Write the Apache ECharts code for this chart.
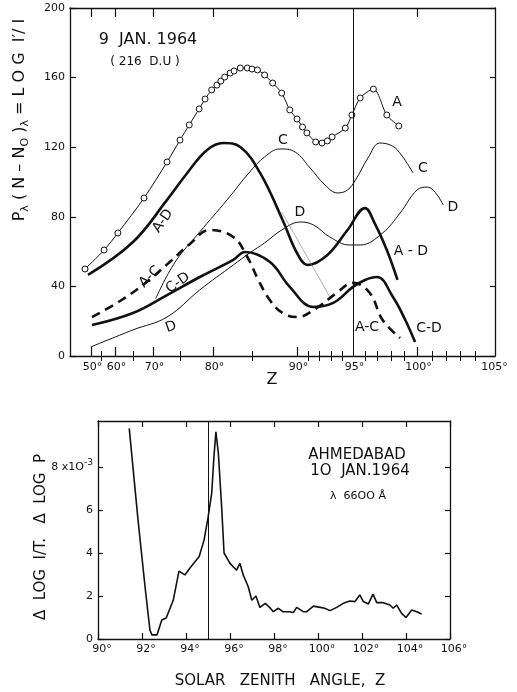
<!DOCTYPE html>
<html><head><meta charset="utf-8">
<script src="https://cdn.jsdelivr.net/npm/echarts@6/dist/echarts.min.js"></script>
<style>html,body{margin:0;padding:0;background:#fff}#c{width:517px;height:692px}</style>
</head><body><div id="c"></div>
<script>
// ---------- Upper chart data (Z in degrees, value) ----------
const A_Z = [47, 56.1, 60.8, 67.75, 72.6, 75, 76.4, 77.9, 78.8, 79.8, 80.5, 81.0, 81.5, 82.2, 82.7, 83.5, 84.4, 85, 85.6, 86.4, 87.3, 88.3, 89.2, 90, 90.5, 90.9, 91.7, 92.25, 92.7, 93.1, 94.3, 94.9, 95.6, 96.7, 97.7, 98.6];
const A_V = [50, 60.9, 70.7, 90.8, 111.5, 124.1, 132.8, 142, 147.7, 152.9, 155.7, 158, 160.3, 162.6, 163.8, 165.5, 165.5, 164.9, 164.4, 161.5, 156.9, 151.1, 141.4, 136.2, 131.6, 128.2, 123, 122.4, 123.6, 125.9, 131, 138.5, 148.3, 153.4, 138.5, 132.2];
const C_Z = [70.5, 74.1, 78, 81.8, 84.7, 86.4, 88.1, 89.8, 91.2, 92.5, 93.6, 94.5, 95.2, 96.25, 97.2, 98.1, 98.8, 99.7];
const C_V = [33, 54, 71.3, 89.7, 105.7, 114.4, 119, 117.2, 108, 98.3, 93.7, 95.4, 101.1, 113.8, 122.4, 120.7, 115.5, 105.2];
const D_Z = [49.9, 65, 72.6, 78, 82.6, 84.7, 86.4, 88.3, 90.3, 91.5, 92.9, 94.7, 95.6, 97.4, 98.7, 100, 100.7, 101.8];
const D_V = [5.2, 15, 22.4, 38, 52.3, 59.2, 65, 72.4, 77, 75.3, 68.4, 63.8, 63.8, 70.7, 82.2, 95.4, 97.1, 86.8];
const AD_Z = [48.5, 65, 72.6, 76.1, 79.1, 81.3, 83.5, 85.9, 88.4, 90, 91, 92.7, 94.5, 96, 96.8, 97.7, 98.5];
const AD_V = [46.6, 65.5, 89.7, 105.2, 118.4, 122.4, 120.1, 105.2, 78.2, 59.2, 52.3, 58, 72.4, 85, 76.4, 60.9, 43.7];
const CD_Z = [50.5, 65, 72.6, 78, 82.6, 84.1, 87, 89.2, 91.5, 93.2, 95, 96, 97, 98.15, 99.1, 99.85];
const CD_V = [17.8, 24.7, 35, 45.4, 55.2, 59.8, 54, 39.7, 28.2, 30.5, 39.7, 43.7, 45.4, 33.9, 20.7, 8];
const AC_Z = [50.5, 61.4, 67.8, 73.1, 76.5, 79.5, 82.6, 84.4, 85.7, 87, 88.4, 90, 91.8, 93.5, 95, 96.4, 97.4, 98.7];
const AC_V = [22.4, 31.6, 41.4, 54, 64.4, 72.4, 68.4, 56.9, 43.7, 32, 24.7, 22.4, 27.6, 36.2, 42, 36.2, 20.7, 10.3];
const GUIDE_Z = [88.3, 92.9];
const GUIDE_V = [82.8, 34];
// upper axis ticks
const UP_LABEL_Z = [50, 60, 70, 80, 90, 95, 100, 105];
const UP_MAJOR_Z = [50, 60, 70, 80, 90, 100];
const UP_MINOR_Z = [55, 65, 75, 85, 91, 92, 93, 94, 96, 97, 98, 99, 101, 102, 103, 104];

// ---------- Lower chart data ----------
const L_Z = [91.42, 91.82, 92.14, 92.36, 92.45, 92.68, 92.9, 93.1, 93.42, 93.68, 93.95, 94.18, 94.6, 94.82, 95.0, 95.17, 95.27, 95.36, 95.47, 95.62, 95.73, 96.0, 96.3, 96.45, 96.6, 96.83, 96.99, 97.18, 97.36, 97.6, 97.8, 97.97, 98.2, 98.4, 98.7, 98.88, 99.03, 99.33, 99.49, 99.79, 100.1, 100.3, 100.55, 100.85, 101.15, 101.45, 101.68, 101.9, 102.06, 102.29, 102.5, 102.67, 102.97, 103.27, 103.42, 103.58, 103.8, 104.0, 104.26, 104.49, 104.71];
const L_V = [9.8, 5.53, 2.42, 0.42, 0.19, 0.19, 0.88, 0.98, 1.8, 3.16, 2.98, 3.3, 3.84, 4.6, 5.63, 6.8, 8.48, 9.64, 8.65, 6.15, 4.0, 3.52, 3.2, 3.52, 2.98, 2.43, 1.8, 2.0, 1.47, 1.66, 1.47, 1.27, 1.43, 1.27, 1.27, 1.23, 1.47, 1.27, 1.27, 1.53, 1.47, 1.43, 1.32, 1.47, 1.66, 1.77, 1.74, 2.05, 1.74, 1.63, 2.09, 1.69, 1.69, 1.58, 1.43, 1.58, 1.19, 1.0, 1.35, 1.27, 1.16];
const LOW_Y_TICKS = [0, 2, 4, 6, 8];
const MARK_Z = 95;

// ---------- non-linear Z scale of the upper chart ----------
const Z_SCALE = [[45,11],[50,21],[55,31],[60,45],[65,63],[70,83],[75,110],[80,143],[85,182],[90,227],[91,238],[92,249],[93,261],[94,272],[95,283],[96,295],[97,307],[98,321],[99,334],[100,347],[101,362],[102,376],[103,390],[104,405],[105,423]];
function zToU(z){
  const s = Z_SCALE;
  let i = 0;
  if (z <= s[0][0]) i = 0;
  else if (z >= s[s.length-1][0]) i = s.length-2;
  else { while (z > s[i+1][0]) i++; }
  const a = s[i], b = s[i+1];
  return a[1] + (z - a[0]) * (b[1] - a[1]) / (b[0] - a[0]);
}
function pts(zs, vs){ return zs.map((z,i)=>[zToU(z), vs[i]]); }
function labelFor(u){
  for (const z of UP_LABEL_Z) if (Math.abs(zToU(z)-u) < 0.5) return z + '°';
  return '';
}

const FONT = 'DejaVu Sans';
const chart = echarts.init(document.getElementById('c'), null, {renderer:'canvas'});
const axisLineStyle = {color:'#111', width:1.3};

function txt(x, y, text, size, rot){
  return {type:'text', x:x, y:y, rotation:(rot||0)*Math.PI/180, silent:true,
    style:{text:text, fill:'#111', font: (size||14)+'px "'+FONT+'"', align:'center', verticalAlign:'middle'}};
}

const option = {
  backgroundColor:'#fff',
  animation:false,
  grid:[
    {left:70, top:8, width:425, height:348},
    {left:98, top:421, width:352, height:218}
  ],
  xAxis:[
    {gridIndex:0, type:'value', min:0, max:425, position:'bottom',
     axisLine:{show:true, onZero:false, lineStyle:axisLineStyle},
     axisTick:{show:true, inside:true, length:9, customValues:UP_MAJOR_Z.map(zToU), lineStyle:{color:'#111', width:1.2}},
     axisLabel:{show:true, customValues:UP_LABEL_Z.map(zToU), formatter:labelFor, color:'#111', fontFamily:FONT, fontSize:11, margin:6, padding:[0,0,0,3]},
     splitLine:{show:false}},
    {gridIndex:0, type:'value', min:0, max:425, position:'bottom',
     axisLine:{show:false},
     axisTick:{show:true, inside:true, length:5, customValues:UP_MINOR_Z.map(zToU), lineStyle:{color:'#111', width:1}},
     axisLabel:{show:false}, splitLine:{show:false}},
    {gridIndex:0, type:'value', min:0, max:425, position:'top',
     axisLine:{show:true, onZero:false, lineStyle:axisLineStyle},
     axisTick:{show:true, inside:true, length:9, customValues:UP_MAJOR_Z.map(zToU), lineStyle:{color:'#111', width:1.2}},
     axisLabel:{show:false}, splitLine:{show:false}},
    {gridIndex:0, type:'value', min:0, max:425, position:'top',
     axisLine:{show:false},
     axisTick:{show:true, inside:true, length:5, customValues:UP_MINOR_Z.map(zToU), lineStyle:{color:'#111', width:1}},
     axisLabel:{show:false}, splitLine:{show:false}},
    {gridIndex:1, type:'value', min:90, max:106, interval:2, position:'bottom',
     axisLine:{show:true, onZero:false, lineStyle:axisLineStyle},
     axisTick:{show:true, inside:true, length:6, lineStyle:{color:'#111', width:1.2}},
     axisLabel:{show:true, formatter:v=>v+'°', color:'#111', fontFamily:FONT, fontSize:11, margin:5, padding:[0,0,0,8]},
     splitLine:{show:false}},
    {gridIndex:1, type:'value', min:90, max:106, interval:2, position:'top',
     axisLine:{show:true, onZero:false, lineStyle:axisLineStyle},
     axisTick:{show:true, inside:true, length:6, lineStyle:{color:'#111', width:1.2}},
     axisLabel:{show:false}, splitLine:{show:false}}
  ],
  yAxis:[
    {gridIndex:0, type:'value', min:0, max:200, interval:40, position:'left',
     axisLine:{show:true, onZero:false, lineStyle:axisLineStyle},
     axisTick:{show:true, inside:true, length:6, lineStyle:{color:'#111', width:1.2}},
     axisLabel:{show:true, color:'#111', fontFamily:FONT, fontSize:11, margin:5},
     splitLine:{show:false}},
    {gridIndex:0, type:'value', min:0, max:200, interval:40, position:'right',
     axisLine:{show:true, onZero:false, lineStyle:axisLineStyle},
     axisTick:{show:true, inside:true, length:5, lineStyle:{color:'#111', width:1.2}},
     axisLabel:{show:false}, splitLine:{show:false}},
    {gridIndex:1, type:'value', min:0, max:10.14, position:'left',
     axisLine:{show:true, onZero:false, lineStyle:axisLineStyle},
     axisTick:{show:true, inside:true, length:5, customValues:LOW_Y_TICKS, lineStyle:{color:'#111', width:1.2}},
     axisLabel:{show:true, customValues:LOW_Y_TICKS, color:'#111', fontFamily:FONT, fontSize:11, margin:5,
       formatter:v=> v===8 ? '8 x1O{sup|-3}' : String(v),
       rich:{sup:{fontSize:9, fontFamily:FONT, color:'#111', padding:[0,0,9,0]}}},
     splitLine:{show:false}},
    {gridIndex:1, type:'value', min:0, max:10.14, position:'right',
     axisLine:{show:true, onZero:false, lineStyle:axisLineStyle},
     axisTick:{show:true, inside:true, length:5, customValues:LOW_Y_TICKS, lineStyle:{color:'#111', width:1.2}},
     axisLabel:{show:false}, splitLine:{show:false}}
  ],
  series:[
    {name:'A', type:'line', xAxisIndex:0, yAxisIndex:0, data:pts(A_Z, A_V), smooth:0.3,
     symbol:'circle', symbolSize:6, itemStyle:{color:'#fff', borderColor:'#111', borderWidth:1},
     lineStyle:{color:'#111', width:1},
     markLine:{silent:true, symbol:'none', label:{show:false}, lineStyle:{color:'#111', width:1, type:'solid'}, data:[{xAxis:zToU(MARK_Z)}]}},
    {name:'C', type:'line', xAxisIndex:0, yAxisIndex:0, data:pts(C_Z, C_V), smooth:0.4, showSymbol:false, lineStyle:{color:'#111', width:1}},
    {name:'D', type:'line', xAxisIndex:0, yAxisIndex:0, data:pts(D_Z, D_V), smooth:0.4, showSymbol:false, lineStyle:{color:'#111', width:1}},
    {name:'A-D', type:'line', xAxisIndex:0, yAxisIndex:0, data:pts(AD_Z, AD_V), smooth:0.4, showSymbol:false, lineStyle:{color:'#111', width:2.6}},
    {name:'C-D', type:'line', xAxisIndex:0, yAxisIndex:0, data:pts(CD_Z, CD_V), smooth:0.4, showSymbol:false, lineStyle:{color:'#111', width:2.6}},
    {name:'A-C', type:'line', xAxisIndex:0, yAxisIndex:0, data:pts(AC_Z, AC_V), smooth:0.4, showSymbol:false, lineStyle:{color:'#111', width:2.6, type:[9,6]}},
    {name:'guide', type:'line', xAxisIndex:0, yAxisIndex:0, data:pts(GUIDE_Z, GUIDE_V), showSymbol:false, lineStyle:{color:'#777', width:0.6}},
    {name:'ratio', type:'line', xAxisIndex:4, yAxisIndex:2, data:L_Z.map((z,i)=>[z, L_V[i]]), showSymbol:false, lineStyle:{color:'#111', width:1.6},
     markLine:{silent:true, symbol:'none', label:{show:false}, lineStyle:{color:'#111', width:1, type:'solid'}, data:[{xAxis:MARK_Z}]}}
  ],
  graphic:[
    txt(148, 40, '9  JAN. 1964', 16),
    txt(145, 62, '( 216  D.U )', 12),
    {type:'text', x:20, y:120, rotation:Math.PI/2, silent:true,
     style:{text:'P{s|λ} ( N – N{s|O} ){s|λ} = L O G  I′/ I', fill:'#111', font:'16px "'+FONT+'"', align:'center', verticalAlign:'middle',
       rich:{s:{fontSize:11, fontFamily:FONT, fill:'#111', padding:[10,0,0,0]}}}},
    txt(397, 102, 'A', 14),
    txt(283, 140, 'C', 14),
    txt(423, 168, 'C', 14),
    txt(453, 207, 'D', 14),
    txt(300, 212, 'D', 14),
    txt(411, 251, 'A - D', 14),
    txt(367, 327, 'A-C', 14),
    txt(429, 328, 'C-D', 14),
    txt(163, 221, 'A-D', 14, 55),
    txt(150, 277, 'A-C', 14, 45),
    txt(178, 283, 'C-D', 14, 35),
    txt(171, 327, 'D', 14, 20),
    txt(272, 380, 'Z', 16),
    txt(357, 455, 'AHMEDABAD', 15),
    txt(360, 471, '1O  JAN.1964', 15),
    txt(358, 496, 'λ  66OO Å', 11),
    txt(41, 537, 'Δ  LOG  I/T.   Δ  LOG  P', 15, 90),
    txt(280, 681, 'SOLAR   ZENITH   ANGLE,  Z', 15)
  ]
};
chart.setOption(option);
</script>
</body></html>
